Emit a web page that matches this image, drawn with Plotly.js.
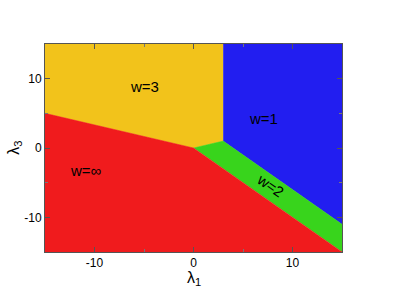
<!DOCTYPE html>
<html><head><meta charset="utf-8">
<script src="https://cdn.plot.ly/plotly-3.0.1.min.js"></script>
<style>html,body{margin:0;padding:0;background:#fff;}#plot{width:409px;height:289px;}</style>
</head><body><div id="plot"></div>
<script>
// Region polygons (phase diagram in lambda1 - lambda3 plane)
const yellowX = [-15, 3, 3, 0, -15];
const yellowY = [15, 15, 1, 0, 5];
const blueX = [3, 15, 15, 3];
const blueY = [15, 15, -11, 1];
const greenX = [0, 3, 15, 15];
const greenY = [0, 1, -11, -15];
const redX = [-15, 0, 15, -15];
const redY = [5, 0, -15, -15];

const labelText = ["w=3", "w=1", "w=\u221E", "w=2"];
const labelX = [-5, 7.1, -10.9, 7.8];
const labelY = [8.8, 4.2, -3.3, -5.4];
const labelAngle = [0, 0, 0, 35];

const tickVals = [-10, 0, 10];
const tickText = ["-10", "0", "10"];
const xTitle = '\u03BB<sub>1</sub>';
const yTitle = '\u03BB<sub>3</sub>';

const FONT = 'Liberation Sans, Arial, sans-serif';

function poly(x, y, color) {
  return {x: x, y: y, type: 'scatter', mode: 'lines', fill: 'toself',
    fillcolor: color, line: {color: color, width: 0.5}, hoverinfo: 'skip', showlegend: false};
}

const traces = [
  poly(yellowX, yellowY, '#f2c31b'),
  poly(blueX, blueY, '#221ef0'),
  poly(greenX, greenY, '#38d41c'),
  poly(redX, redY, '#f01b1d')
];

const annotations = labelText.map((t, i) => ({
  x: labelX[i], y: labelY[i], xref: 'x', yref: 'y', text: t, showarrow: false,
  textangle: labelAngle[i], font: {family: FONT, size: 15, color: '#000'}
}));
annotations.push({x: 0.5, y: -0.125, xref: 'paper', yref: 'paper', text: xTitle, showarrow: false,
  xanchor: 'center', yanchor: 'middle', font: {family: FONT, size: 16, color: '#000'}});
annotations.push({x: -0.105, y: 0.5, xref: 'paper', yref: 'paper', text: yTitle, showarrow: false,
  textangle: -90, xanchor: 'center', yanchor: 'middle', font: {family: FONT, size: 16, color: '#000'}});

const axisCommon = {
  range: [-15, 15], tickvals: tickVals, ticktext: tickText, ticks: 'inside', ticklen: 5,
  tickcolor: '#555', showgrid: false, zeroline: false, showline: true, linecolor: '#555', linewidth: 1,
  mirror: 'ticks', tickfont: {family: FONT, size: 12, color: '#000'},
  minor: {tickvals: [-5, 5], ticks: 'inside', ticklen: 3, tickcolor: '#777', showgrid: false}
};

const layout = {
  width: 409, height: 289,
  margin: {l: 45, r: 67, t: 44, b: 37},
  paper_bgcolor: '#fff', plot_bgcolor: '#fff',
  showlegend: false,
  xaxis: Object.assign({}, axisCommon),
  yaxis: Object.assign({}, axisCommon),
  annotations: annotations
};

Plotly.newPlot('plot', traces, layout, {displayModeBar: false, staticPlot: true});
</script>
</body></html>
